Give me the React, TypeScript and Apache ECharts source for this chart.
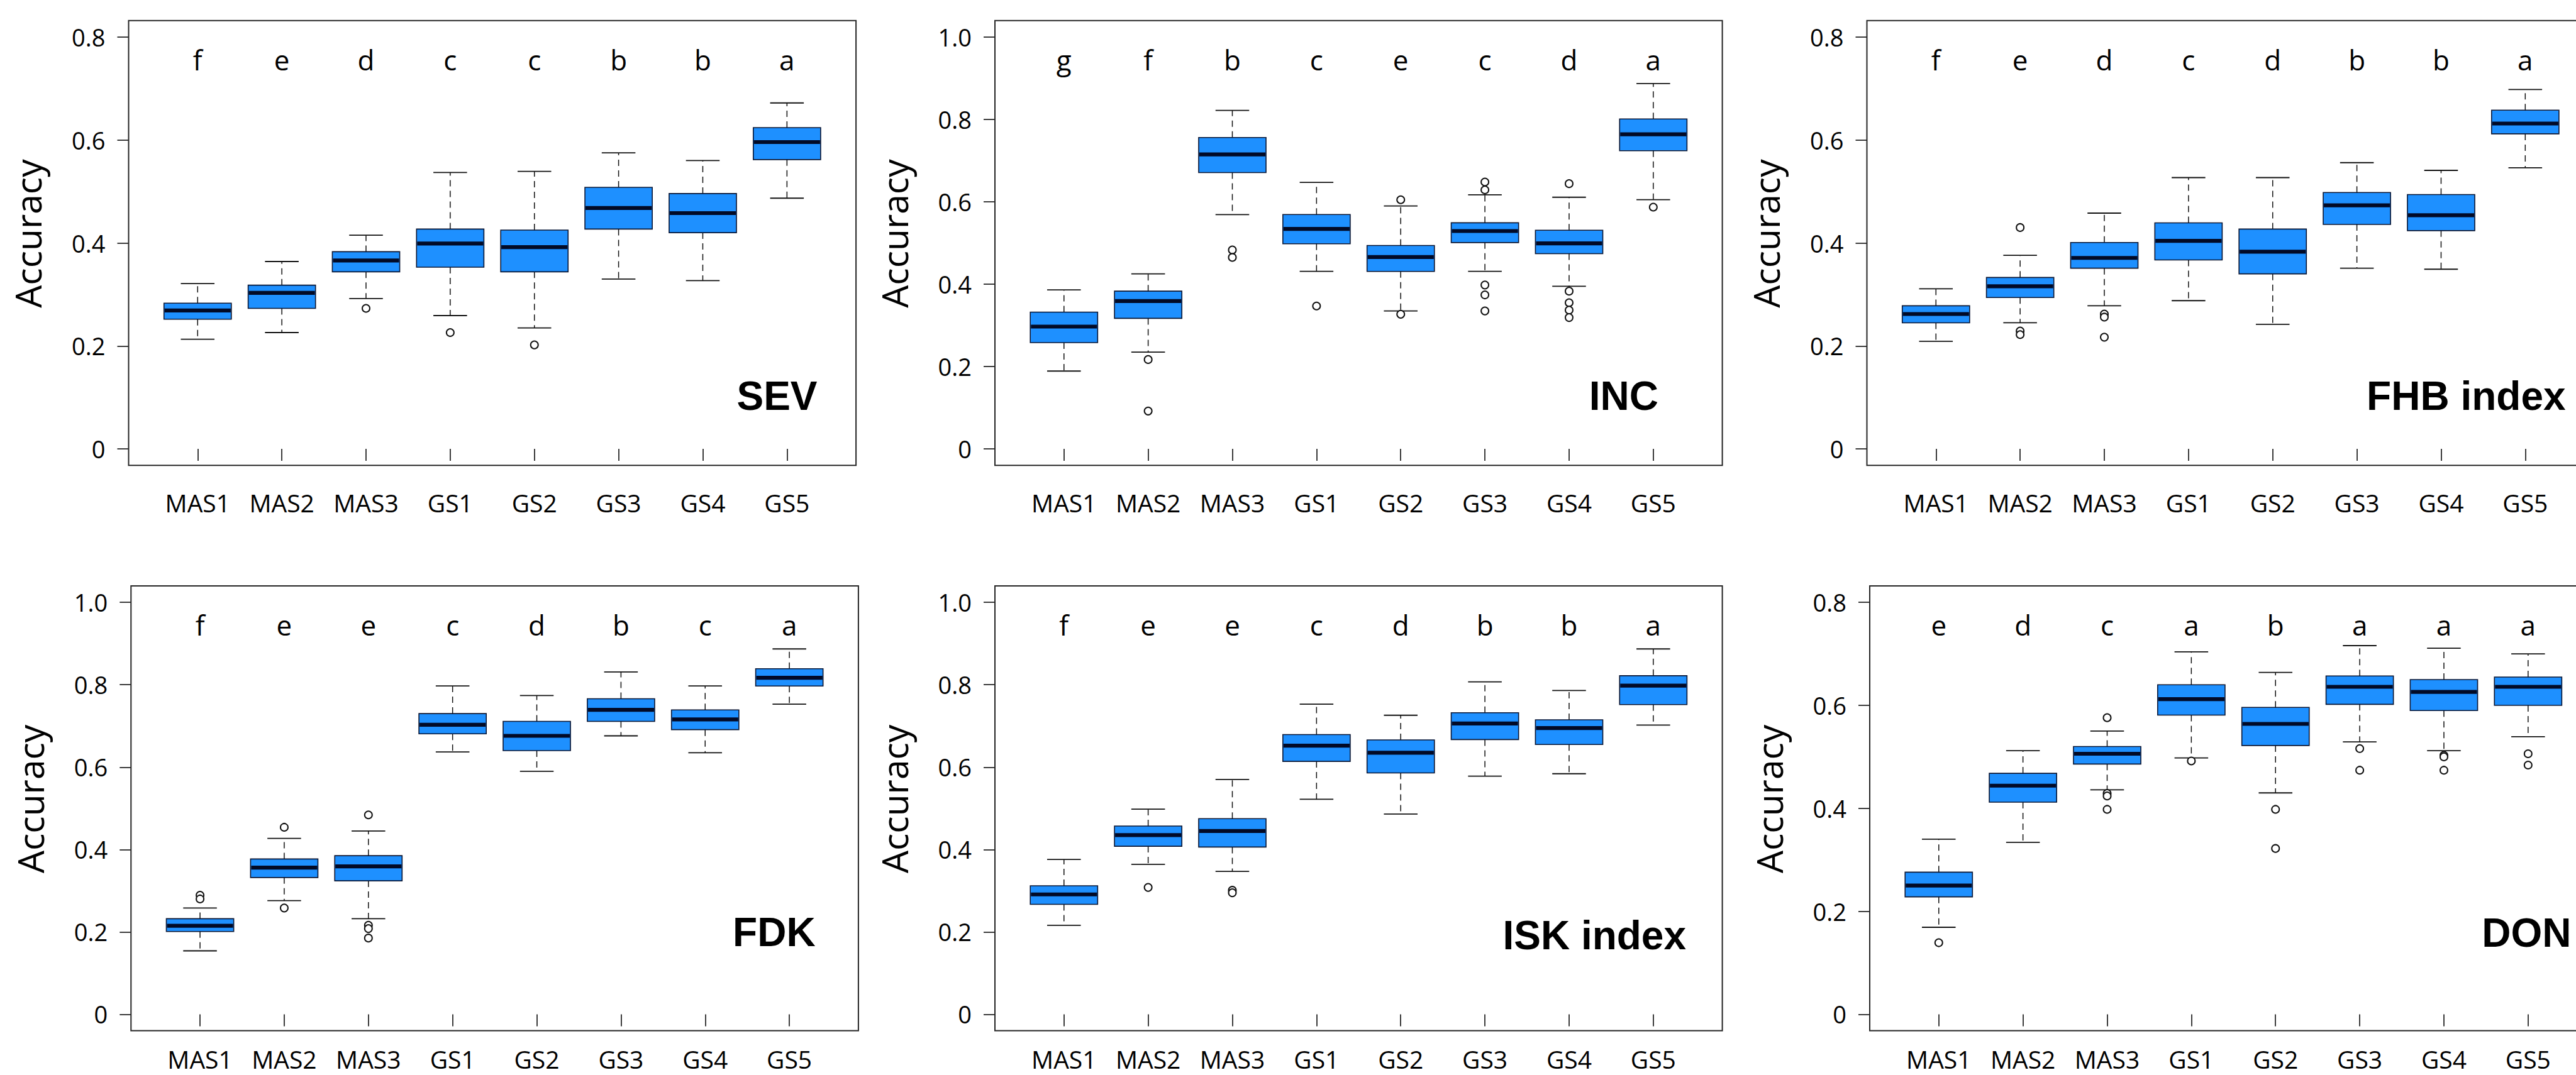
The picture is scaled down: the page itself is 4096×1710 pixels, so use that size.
import React, { useEffect, useRef } from "react";
import * as echarts from "echarts";

// ---------- data ----------
const categories = ["MAS1", "MAS2", "MAS3", "GS1", "GS2", "GS3", "GS4", "GS5"];

// each box: [lower whisker, Q1, median, Q3, upper whisker]
const sevBoxes = [
  [0.213, 0.252, 0.269, 0.283, 0.321],
  [0.226, 0.273, 0.303, 0.318, 0.364],
  [0.292, 0.344, 0.366, 0.383, 0.415],
  [0.259, 0.353, 0.399, 0.427, 0.537],
  [0.235, 0.344, 0.392, 0.425, 0.539],
  [0.330, 0.427, 0.468, 0.508, 0.575],
  [0.327, 0.420, 0.458, 0.496, 0.560],
  [0.487, 0.562, 0.596, 0.624, 0.672],
];
const sevOutliers = [[3, 0.273], [4, 0.226], [5, 0.202]];
const sevLetters = ["f", "e", "d", "c", "c", "b", "b", "a"];

const incBoxes = [
  [0.189, 0.258, 0.297, 0.332, 0.386],
  [0.235, 0.317, 0.359, 0.383, 0.425],
  [0.569, 0.671, 0.715, 0.756, 0.822],
  [0.431, 0.498, 0.534, 0.569, 0.647],
  [0.335, 0.431, 0.466, 0.494, 0.590],
  [0.431, 0.501, 0.529, 0.549, 0.617],
  [0.395, 0.474, 0.499, 0.531, 0.611],
  [0.605, 0.724, 0.764, 0.801, 0.887],
];
const incOutliers = [
  [2, 0.217], [2, 0.092], [3, 0.483], [3, 0.465], [4, 0.347], [5, 0.605], [5, 0.327],
  [6, 0.648], [6, 0.629], [6, 0.398], [6, 0.374], [6, 0.335],
  [7, 0.644], [7, 0.383], [7, 0.355], [7, 0.337], [7, 0.319], [8, 0.587],
];
const incLetters = ["g", "f", "b", "c", "e", "c", "d", "a"];

const fhbBoxes = [
  [0.209, 0.245, 0.262, 0.278, 0.311],
  [0.245, 0.294, 0.316, 0.333, 0.376],
  [0.278, 0.351, 0.371, 0.401, 0.458],
  [0.288, 0.367, 0.404, 0.439, 0.527],
  [0.242, 0.340, 0.383, 0.427, 0.527],
  [0.351, 0.436, 0.473, 0.498, 0.556],
  [0.349, 0.424, 0.454, 0.494, 0.541],
  [0.546, 0.612, 0.632, 0.658, 0.698],
];
const fhbOutliers = [[2, 0.430], [2, 0.229], [2, 0.222], [3, 0.262], [3, 0.256], [3, 0.217]];
const fhbLetters = ["f", "e", "d", "c", "d", "b", "b", "a"];

const fdkBoxes = [
  [0.154, 0.201, 0.215, 0.232, 0.258],
  [0.276, 0.332, 0.356, 0.377, 0.427],
  [0.232, 0.324, 0.359, 0.385, 0.445],
  [0.637, 0.681, 0.703, 0.730, 0.797],
  [0.590, 0.640, 0.676, 0.711, 0.774],
  [0.676, 0.711, 0.739, 0.766, 0.831],
  [0.635, 0.691, 0.716, 0.739, 0.797],
  [0.753, 0.797, 0.817, 0.839, 0.887],
];
const fdkOutliers = [[1, 0.289], [1, 0.280], [2, 0.454], [2, 0.258], [3, 0.484], [3, 0.216], [3, 0.208], [3, 0.185]];
const fdkLetters = ["f", "e", "e", "c", "d", "b", "c", "a"];

const iskBoxes = [
  [0.216, 0.267, 0.291, 0.312, 0.376],
  [0.364, 0.408, 0.435, 0.457, 0.498],
  [0.347, 0.406, 0.445, 0.475, 0.570],
  [0.522, 0.614, 0.652, 0.679, 0.753],
  [0.486, 0.586, 0.635, 0.666, 0.726],
  [0.578, 0.667, 0.706, 0.732, 0.807],
  [0.584, 0.655, 0.695, 0.715, 0.786],
  [0.702, 0.752, 0.798, 0.822, 0.887],
];
const iskOutliers = [[2, 0.308], [3, 0.301], [3, 0.295]];
const iskLetters = ["f", "e", "e", "c", "d", "b", "b", "a"];

const donBoxes = [
  [0.169, 0.228, 0.250, 0.276, 0.340],
  [0.334, 0.412, 0.444, 0.468, 0.512],
  [0.436, 0.486, 0.506, 0.520, 0.550],
  [0.498, 0.581, 0.612, 0.640, 0.704],
  [0.430, 0.522, 0.564, 0.596, 0.664],
  [0.529, 0.602, 0.636, 0.657, 0.716],
  [0.512, 0.590, 0.626, 0.650, 0.711],
  [0.539, 0.600, 0.636, 0.655, 0.700],
];
const donOutliers = [
  [1, 0.139], [3, 0.576], [3, 0.429], [3, 0.424], [3, 0.398], [4, 0.492], [5, 0.398], [5, 0.322],
  [6, 0.516], [6, 0.474], [7, 0.503], [7, 0.500], [7, 0.474], [8, 0.506], [8, 0.484],
];
const donLetters = ["e", "d", "c", "a", "b", "a", "a", "a"];

const ticks08 = [0, 0.2, 0.4, 0.6, 0.8];
const ticks10 = [0, 0.2, 0.4, 0.6, 0.8, 1.0];
const yTitle = "Accuracy";

// ---------- layout / style ----------
const PANEL_W = 1156.6;
const PANEL_H = 707.6;
const panels = [
  { name: "SEV", boxes: sevBoxes, outliers: sevOutliers, letters: sevLetters, ymax: 0.8, ticks: ticks08, left: 204.5, top: 32.7, lx: 8.36, ly: 0.103, align: "right", xm: 40 },
  { name: "INC", boxes: incBoxes, outliers: incOutliers, letters: incLetters, ymax: 1.0, ticks: ticks10, left: 1582, top: 32.7, lx: 8.06, ly: 0.129, align: "right", xm: 40 },
  { name: "FHB index", boxes: fhbBoxes, outliers: fhbOutliers, letters: fhbLetters, ymax: 0.8, ticks: ticks08, left: 2968.5, top: 32.7, lx: 8.48, ly: 0.103, align: "right", xm: 40 },
  { name: "FDK", boxes: fdkBoxes, outliers: fdkOutliers, letters: fdkLetters, ymax: 1.0, ticks: ticks10, left: 208.3, top: 932, lx: 8.31, ly: 0.199, align: "right", xm: 25 },
  { name: "ISK index", boxes: iskBoxes, outliers: iskOutliers, letters: iskLetters, ymax: 1.0, ticks: ticks10, left: 1582, top: 932, lx: 8.39, ly: 0.191, align: "right", xm: 25 },
  { name: "DON", boxes: donBoxes, outliers: donOutliers, letters: donLetters, ymax: 0.8, ticks: ticks08, left: 2973, top: 932, lx: 7.45, ly: 0.158, align: "left", xm: 25 },
];

const FONT = "'Open Sans', 'Noto Sans', sans-serif";
const BOLD_FONT = "'Liberation Sans', Arial, sans-serif";
const FRAME = "#262626";
const TEXT = "#000000";
const BOX_FILL = "#1E90FF";
const BOX_EDGE = "#0b1633";
const MEDIAN = "#020a26";

function renderBox(params: any, api: any) {
  const x = api.value(0);
  const lo = api.coord([x, api.value(1)]);
  const q1 = api.coord([x, api.value(2)]);
  const md = api.coord([x, api.value(3)]);
  const q3 = api.coord([x, api.value(4)]);
  const hi = api.coord([x, api.value(5)]);
  const bw = api.size([0.8, 0])[0];
  const cw = api.size([0.4, 0])[0];
  const cx = md[0];
  const whisk = { stroke: "#111", lineWidth: 1.5, lineDash: [10, 7] };
  const cap = { stroke: "#111", lineWidth: 1.8 };
  return {
    type: "group",
    children: [
      { type: "line", shape: { x1: cx, y1: q3[1], x2: cx, y2: hi[1] }, style: whisk },
      { type: "line", shape: { x1: cx, y1: q1[1], x2: cx, y2: lo[1] }, style: whisk },
      { type: "line", shape: { x1: cx - cw / 2, y1: hi[1], x2: cx + cw / 2, y2: hi[1] }, style: cap },
      { type: "line", shape: { x1: cx - cw / 2, y1: lo[1], x2: cx + cw / 2, y2: lo[1] }, style: cap },
      {
        type: "rect",
        shape: { x: cx - bw / 2, y: q3[1], width: bw, height: q1[1] - q3[1] },
        style: { fill: BOX_FILL, stroke: BOX_EDGE, lineWidth: 1.6 },
      },
      { type: "line", shape: { x1: cx - bw / 2 + 1, y1: md[1], x2: cx + bw / 2 - 1, y2: md[1] }, style: { stroke: MEDIAN, lineWidth: 6.2 } },
    ],
  };
}

function buildOption() {
  const grid: any[] = [];
  const xAxis: any[] = [];
  const yAxis: any[] = [];
  const series: any[] = [];
  panels.forEach((p, i) => {
    const ymin = -0.04 * p.ymax;
    const ymaxE = p.ymax * 1.04;
    grid.push({
      left: p.left, top: p.top, width: PANEL_W, height: PANEL_H,
      show: true, borderColor: FRAME, borderWidth: 2, backgroundColor: "transparent",
      containLabel: false, outerBoundsMode: "none",
    });
    xAxis.push({
      type: "value", gridIndex: i, min: 0.18, max: 8.82,
      axisLine: { show: false },
      splitLine: { show: false },
      axisTick: { show: true, inside: false, length: 19, customValues: [1, 2, 3, 4, 5, 6, 7, 8], lineStyle: { color: FRAME, width: 1.8 } },
      axisLabel: {
        show: true, customValues: [1, 2, 3, 4, 5, 6, 7, 8], margin: p.xm,
        formatter: (v: number) => categories[Math.round(v) - 1] ?? "",
        fontFamily: FONT, fontSize: 39, color: TEXT,
      },
    });
    yAxis.push({
      type: "value", gridIndex: i, min: ymin, max: ymaxE,
      axisLine: { show: false },
      splitLine: { show: false },
      axisTick: { show: true, inside: false, length: 18, customValues: p.ticks, lineStyle: { color: FRAME, width: 1.8 } },
      axisLabel: {
        show: true, customValues: p.ticks, margin: 37,
        formatter: (v: number) => (Math.abs(v) < 1e-9 ? "0" : v.toFixed(1)),
        fontFamily: FONT, fontSize: 38, color: TEXT,
      },
      name: yTitle, nameLocation: "middle", nameGap: 132, nameRotate: 90,
      nameTextStyle: { fontFamily: FONT, fontSize: 57, color: TEXT, padding: [0, 0, 0, 30] },
    });
    series.push({
      type: "custom", xAxisIndex: i, yAxisIndex: i, renderItem: renderBox, silent: true,
      encode: { x: 0, y: [1, 2, 3, 4, 5] },
      data: p.boxes.map((b, k) => [k + 1, ...b]),
      z: 2,
    });
    series.push({
      type: "scatter", xAxisIndex: i, yAxisIndex: i, silent: true,
      symbol: "emptyCircle", symbolSize: 12,
      itemStyle: { color: "#111", borderWidth: 1.5, opacity: 1 },
      data: p.outliers,
      z: 3,
    });
    const letterY = 0.945 * p.ymax;
    const letters = p.letters;
    series.push({
      type: "scatter", xAxisIndex: i, yAxisIndex: i, silent: true, symbolSize: 0,
      itemStyle: { opacity: 1 },
      data: letters.map((_, k) => [k + 1, letterY]),
      label: {
        show: true, position: "inside", formatter: (q: any) => letters[q.dataIndex],
        fontFamily: FONT, fontSize: 44, color: TEXT, opacity: 1,
      },
      z: 4,
    });
    const nm = p.name;
    series.push({
      type: "scatter", xAxisIndex: i, yAxisIndex: i, silent: true, symbolSize: 0,
      itemStyle: { opacity: 1 },
      data: [[p.lx, p.ly]],
      label: {
        show: true, position: [0, 0], align: p.align, verticalAlign: "middle",
        formatter: () => nm, opacity: 1,
        fontFamily: BOLD_FONT, fontWeight: "bold", fontSize: 64, color: "#000",
      },
      z: 4,
    });
  });
  return { animation: false, backgroundColor: "#ffffff", grid, xAxis, yAxis, series };
}

export default function App() {
  const ref = useRef<HTMLDivElement>(null);
  useEffect(() => {
    if (!ref.current) return;
    const chart = echarts.init(ref.current, undefined, { renderer: "svg" });
    chart.setOption(buildOption() as any);
    return () => chart.dispose();
  }, []);
  return (
    <div
      ref={ref}
      style={{ position: "fixed", left: 0, top: 0, width: 4096, height: 1710, background: "#fff" }}
    />
  );
}
